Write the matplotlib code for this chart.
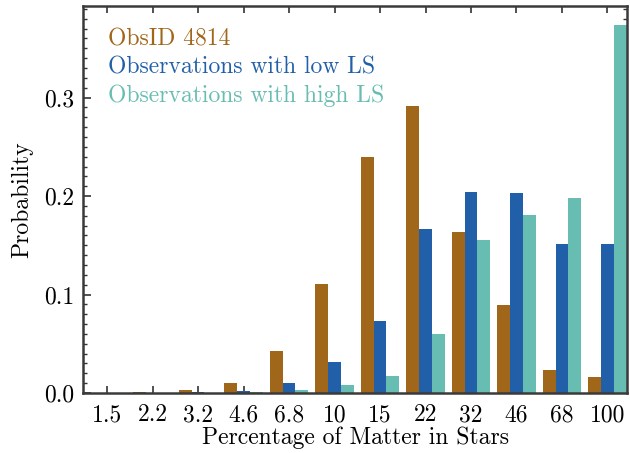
import numpy as np
import matplotlib
matplotlib.use("Agg")
import matplotlib.pyplot as plt
from matplotlib.ticker import MultipleLocator, FixedLocator, FixedFormatter

categories = ["1.5", "2.2", "3.2", "4.6", "6.8", "10", "15", "22", "32", "46", "68", "100"]
obsid_4814 = [0.0005, 0.001, 0.003, 0.010, 0.043, 0.111, 0.240, 0.291, 0.163, 0.089, 0.023, 0.016]
low_ls = [0.0003, 0.0005, 0.001, 0.002, 0.010, 0.031, 0.073, 0.167, 0.204, 0.203, 0.151, 0.151]
high_ls = [0.0002, 0.0003, 0.0005, 0.001, 0.003, 0.008, 0.017, 0.060, 0.155, 0.181, 0.198, 0.374]
series_labels = ["ObsID 4814", "Observations with low LS", "Observations with high LS"]
colors = ["#A0661A", "#2160A8", "#68BDB2"]
ytick_values = [0.0, 0.1, 0.2, 0.3]
ytick_labels = ["0.0", "0.1", "0.2", "0.3"]

plt.rcParams["font.family"] = ["cmr10", "DejaVu Serif"]
FS = 17

fig = plt.figure(figsize=(6.3, 4.53), dpi=100)
ax = fig.add_axes([83 / 630, 1 - 393 / 453, (627 - 83) / 630, (393 - 6) / 453])

x = np.arange(len(categories))
w = 0.28
series = [obsid_4814, low_ls, high_ls]
handles = []
for i, (vals, lab, c) in enumerate(zip(series, series_labels, colors)):
    b = ax.bar(x + (i - 1) * w, vals, width=w, color=c, label=lab, zorder=2)
    handles.append(b)

ax.set_xlim(-0.53, 11.43)
ax.set_ylim(0, 0.393)

ax.set_xticks(x)
ax.set_xticklabels(categories, fontsize=FS)
ax.yaxis.set_major_locator(FixedLocator(ytick_values))
ax.yaxis.set_major_formatter(FixedFormatter(ytick_labels))
ax.yaxis.set_minor_locator(MultipleLocator(0.01))
ax.tick_params(axis="y", which="major", direction="in", length=6, width=1.2,
               left=True, right=True, labelsize=FS, pad=6, color="#333333")
ax.tick_params(axis="y", which="minor", direction="in", length=3, width=1.0,
               left=True, right=True, color="#333333")
ax.tick_params(axis="x", which="major", direction="in", length=5, width=1.2,
               bottom=True, top=True, labelsize=FS, pad=8, color="#333333")

for s in ax.spines.values():
    s.set_linewidth(1.8)
    s.set_color("#3a3a3a")
    s.set_zorder(3)

ax.set_xlabel("Percentage of Matter in Stars", fontsize=FS, labelpad=0)
ax.set_ylabel("Probability", fontsize=FS, labelpad=8)

leg = ax.legend(handles=handles, loc="upper left", frameon=False, handlelength=0,
                handletextpad=0, fontsize=FS, labelspacing=0.25,
                bbox_to_anchor=(0.028, 0.966), borderaxespad=0)
for h in leg.legend_handles:
    h.set_visible(False)
for t, c in zip(leg.get_texts(), colors):
    t.set_color(c)

fig.savefig("out.png", dpi=100)
